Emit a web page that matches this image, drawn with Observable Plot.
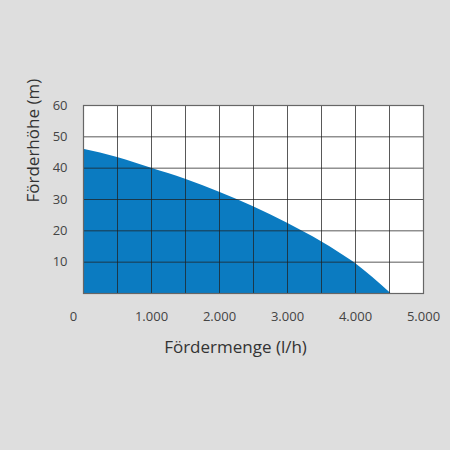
<!DOCTYPE html>
<html><head><meta charset="utf-8">
<script src="https://cdn.jsdelivr.net/npm/d3@7"></script>
<script src="https://cdn.jsdelivr.net/npm/@observablehq/plot@0.6"></script>
<style>
html,body{margin:0;padding:0;background:#dedede;}
#chart{width:450px;height:450px;}
</style></head>
<body><div id="chart"></div>
<script>
const flow = [0, 500, 1000, 1500, 2000, 2500, 3000, 3500, 3750, 4000, 4250, 4520];
const head = [46, 43.4, 40, 36.5, 32.3, 27.7, 22.4, 16.5, 13.2, 9.6, 5.2, 0];
const xTicks = [1000, 2000, 3000, 4000, 5000];
const yTicks = [10, 20, 30, 40, 50, 60];
const xGrid = [500, 1000, 1500, 2000, 2500, 3000, 3500, 4000, 4500];
const yGrid = [10, 20, 30, 40, 50];
const xLabel = "Fördermenge (l/h)";
const yLabel = "Förderhöhe (m)";

const data = flow.map((q, i) => ({q, h: head[i]}));
const fmt = d => d3.format(",")(d).replace(/,/g, ".");

const chart = Plot.plot({
  width: 450,
  height: 450,
  marginLeft: 83,
  marginRight: 27,
  marginTop: 105,
  marginBottom: 157,
  style: {background: "#dedede", fontFamily: "'Open Sans', sans-serif", fontSize: "13px", color: "#444"},
  x: {domain: [0, 5000]},
  y: {domain: [0, 60]},
  marks: [
    Plot.frame({fill: "white", stroke: null}),
    Plot.areaY(data, {x: "q", y: "h", curve: "monotone-x", fill: "#0b7bc1"}),
    Plot.ruleX(xGrid, {stroke: "#222", strokeOpacity: 0.75, strokeWidth: 1}),
    Plot.ruleY(yGrid, {stroke: "#222", strokeOpacity: 0.75, strokeWidth: 1}),
    Plot.frame({stroke: "#666", strokeWidth: 1.2}),
    Plot.axisX(xTicks, {tickSize: 0, tickPadding: 18, tickFormat: fmt, label: null, fontSize: 13, fill: "#444"}),
    Plot.axisY(yTicks, {tickSize: 0, tickPadding: 16, label: null, fontSize: 13, fill: "#444"}),
    Plot.text(["0"], {x: 0, frameAnchor: "bottom", dx: -10, dy: 23, fontSize: 13, fill: "#444", lineAnchor: "middle"}),
    Plot.text([xLabel], {frameAnchor: "bottom", dx: -18, dy: 54, fontSize: 17, fill: "#333", lineAnchor: "middle"}),
    Plot.text([yLabel], {frameAnchor: "left", dx: -50, dy: 3, rotate: -90, fontSize: 17, fill: "#333", lineAnchor: "middle"})
  ]
});
document.getElementById("chart").appendChild(chart);
</script>
</body></html>
